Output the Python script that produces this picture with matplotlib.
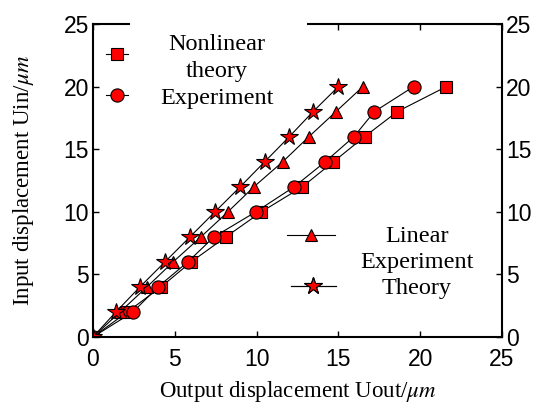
import numpy as np
import matplotlib
matplotlib.use("Agg")
import matplotlib.pyplot as plt
from matplotlib.patches import Rectangle

# data (um)
uin = [0, 2, 4, 6, 8, 10, 12, 14, 16, 18, 20]
nonlin_theory = [0, 2.1, 4.16, 6.0, 8.13, 10.3, 12.8, 14.7, 16.6, 18.6, 21.6]
nonlin_exp = [0, 2.45, 3.97, 5.8, 7.4, 9.96, 12.3, 14.2, 15.95, 17.2, 19.6]
linear_exp = [0, 1.65, 3.3, 4.9, 6.6, 8.25, 9.84, 11.6, 13.2, 14.85, 16.5]
linear_theory = [0, 1.4, 2.87, 4.4, 5.93, 7.46, 9.0, 10.5, 12.0, 13.45, 15.0]

ticks = [0, 5, 10, 15, 20, 25]

plt.rcParams['mathtext.fontset'] = 'stix'

fig = plt.figure(figsize=(5.39, 4.07), dpi=100)
ax = fig.add_axes([0.1725, 0.172, 0.7588, 0.769])

style = dict(color='black', lw=0.8, markerfacecolor='red',
             markeredgecolor='black', markeredgewidth=0.8)
sq, = ax.plot(nonlin_theory, uin, marker='s', ms=8.5, **style)
ci, = ax.plot(nonlin_exp, uin, marker='o', ms=9.5, **style)
tr, = ax.plot(linear_exp, uin, marker='^', ms=9, **style)
st, = ax.plot(linear_theory, uin, marker='*', ms=13, **style)

ax.set_xlim(0, 25)
ax.set_ylim(0, 25)
ax.set_xticks(ticks)
ax.set_yticks(ticks)
ax.tick_params(direction='in', length=4, width=1, top=True, right=True,
               labelright=True, labelsize=16.5, pad=3)
ax.tick_params(axis='x', pad=8)
for lab in ax.get_xticklabels() + ax.yaxis.get_ticklabels(which='both'):
    lab.set_family('Liberation Sans')
for s in ax.spines.values():
    s.set_linewidth(1.5)

serif = 'Liberation Serif'
ax.set_xlabel('Output displacement Uout/$\\mu m$', family=serif, fontsize=16.5, labelpad=6)
ax.set_ylabel('Input displacement Uin/$\\mu m$', family=serif, fontsize=16.5, labelpad=20)

# legend handles, one legend per entry
for h, pos, hl in [(sq, (0.059, 0.898), 1.0), (ci, (0.059, 0.767), 1.0),
                   (tr, (0.533, 0.319), 2.15), (st, (0.539, 0.157), 2.0)]:
    lg = ax.legend([h], [''], loc='center', bbox_to_anchor=pos, frameon=False,
                   handlelength=hl, handletextpad=0, borderpad=0, borderaxespad=0,
                   fontsize=16)
    ax.add_artist(lg)

# white box of the text block hides part of the top frame
ax.add_patch(Rectangle((0.0905, 0.95), 0.433, 0.1, transform=ax.transAxes,
                       fc='white', ec='none', clip_on=False, zorder=3))
ax.text(0.303, 0.848, 'Nonlinear\ntheory\nExperiment', transform=ax.transAxes,
        ha='center', va='center', family=serif, fontsize=17.5, linespacing=1.37)
ax.text(0.792, 0.238, 'Linear\nExperiment\nTheory', transform=ax.transAxes,
        ha='center', va='center', family=serif, fontsize=17.5, linespacing=1.3)

fig.savefig('out.png', dpi=100)
